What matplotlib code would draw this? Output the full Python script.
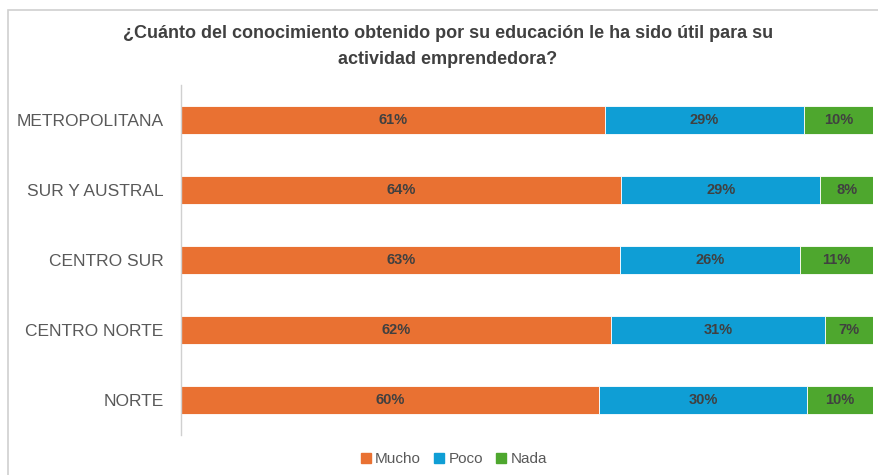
import matplotlib
matplotlib.use("Agg")
import matplotlib.pyplot as plt
import numpy as np
from matplotlib.patches import Rectangle
from matplotlib.lines import Line2D

# Daten (Anteile in %, aus der Grafik geschätzt)
regiones = ["METROPOLITANA", "SUR Y AUSTRAL", "CENTRO SUR", "CENTRO NORTE", "NORTE"]
mucho = [61.2, 63.6, 63.4, 62.1, 60.4]
poco = [28.8, 28.8, 26.0, 31.0, 30.0]
nada = [10.0, 7.6, 10.6, 6.9, 9.6]
series = ["Mucho", "Poco", "Nada"]
colores = ["#E97132", "#0F9ED5", "#4EA72E"]

titulo = "¿Cuánto del conocimiento obtenido por su educación le ha sido útil para su\nactividad emprendedora?"
fuente = ["Liberation Sans", "DejaVu Sans"]

fig = plt.figure(figsize=(8.79, 4.75), dpi=100)
W, H = 879, 475

# Rahmen
fig.patches.append(Rectangle((8 / W, -0.1), 1.2, 1 - 10 / H + 0.1, transform=fig.transFigure,
                             fill=False, edgecolor="#D0D0D0", linewidth=1.2))

ax = fig.add_axes([181.5 / W, 40 / H, 691.5 / W, 350 / H])
y = np.arange(len(regiones))[::-1]

left = np.zeros(len(regiones))
for vals, nombre, col in zip([mucho, poco, nada], series, colores):
    vals = np.array(vals, dtype=float)
    bars = ax.barh(y, vals, left=left, height=0.4, color=col, edgecolor="white",
                   linewidth=0.6, label=nombre)
    for b, v in zip(bars, vals):
        ax.text(b.get_x() + b.get_width() / 2, b.get_y() + b.get_height() / 2, f"{v:.0f}%",
                ha="center", va="center", fontsize=10.5, fontweight="bold", color="#404040",
                family=fuente)
    left += vals

ax.set_xlim(0, 100)
ax.set_ylim(-0.5, 4.5)
ax.set_yticks(y)
ax.set_yticklabels(regiones, fontsize=12.5, color="#595959", family=fuente)
ax.tick_params(axis="y", length=0, pad=13)
ax.set_xticks([])
for s in ["top", "right", "bottom"]:
    ax.spines[s].set_visible(False)
ax.spines["left"].set_color("#D0D0D0")
ax.spines["left"].set_linewidth(1.0)

fig.text(448 / W, 1 - 46.5 / H, titulo, ha="center", va="center", fontsize=13, fontweight="bold",
         color="#404040", linespacing=1.7, family=fuente)

handles = [Line2D([], [], marker="s", linestyle="none", markersize=7, color=c) for c in colores]
fig.legend(handles, series, loc="center", bbox_to_anchor=(452 / W, 1 - 459 / H), ncol=3, frameon=False,
           labelcolor="#595959", handletextpad=0.0, columnspacing=0.6, handlelength=1.2,
           prop={"family": fuente, "size": 11})

fig.savefig("out.png", dpi=100)
